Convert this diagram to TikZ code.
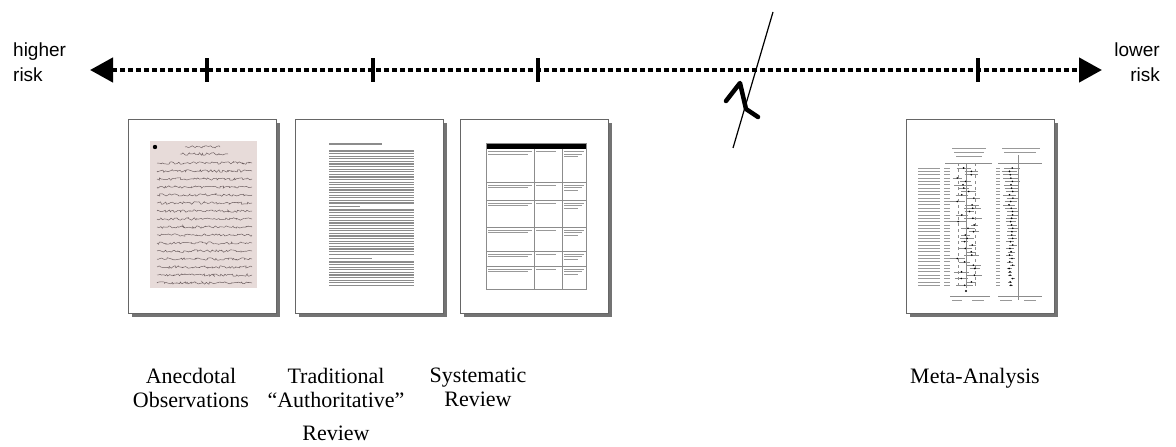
\documentclass[tikz,border=0pt]{standalone}
\usepackage{fontspec}
\setmainfont{Liberation Serif}
\newfontfamily\arialfont{Liberation Sans}
\usetikzlibrary{arrows.meta,shadows,decorations.pathmorphing,positioning}

\definecolor{paper}{RGB}{231,219,217}
\definecolor{ink}{RGB}{105,90,92}

\tikzset{
  docpage/.style={draw=black!60,fill=white,line width=0.8pt,inner sep=0pt,
    minimum width=148pt,minimum height=194pt,
    drop shadow={shadow xshift=4pt,shadow yshift=-4pt,fill=black!55,opacity=1}},
  riskaxis/.style={line width=4.5pt,dash pattern=on 5pt off 3pt,
    {Triangle[length=23pt,width=24pt]}-{Triangle[length=23pt,width=24pt]}},
  tickmark/.style={line width=4pt},
  caption/.style={anchor=north,align=center,inner sep=0pt,font=\fontsize{22}{24}\selectfont},
  risktext/.style={inner sep=0pt,font=\arialfont\fontsize{19}{25}\selectfont},
  scribble/.style={draw=ink,line width=0.45pt,decorate,
    decoration={random steps,segment length=1.6pt,amplitude=1.3pt}},
  textline/.style={draw=black!45,line width=1.1pt},
  cellline/.style={draw=black!40,line width=0.8pt},
  gridline/.style={draw=black!45,line width=0.5pt}
}

\begin{document}
\begin{tikzpicture}[x=1pt,y=-1pt]
\useasboundingbox (0,0) rectangle (1176,447);
\pgfmathsetseed{7}

%% Risk axis
\coordinate (hiEnd) at (90,70);
\coordinate (loEnd) at (1102,70);
\draw[riskaxis] (hiEnd) -- (loEnd);
\foreach \x in {207,373,538,978}
  \draw[tickmark] (\x,58) -- (\x,82);

\node (hiRisk) [risktext,anchor=north west,align=left]  at (13,43)   {higher\\risk};
\node (loRisk) [risktext,anchor=north east,align=right] at (1160,43) {lower\\risk};

%% Axis break
\coordinate (brkTop) at (773,12);
\coordinate (brkBot) at (733,148);
\draw[line width=1.2pt] (brkTop) -- (brkBot);
\draw[line width=4.5pt,line join=round,line cap=round]
  (726,101) -- (740,83) -- (746,109) -- (758,117);

%% Pages
\node (obsPage)  [docpage] at (202,216) {};
\node (revPage)  [docpage] at (369,216) {};
\node (sysPage)  [docpage] at (534,216) {};
\node (metaPage) [docpage] at (980,216) {};

%% Manuscript
\fill[paper] (150,141) rectangle (257,288);
\draw[scribble] (185,147) -- (220,147);
\draw[scribble] (180,154) -- (228,154);
\foreach \y in {163,171,...,283}
  \draw[scribble] (157,\y) -- (252,\y);
\fill[black] (155,147) circle (2.2);

%% Review text
\draw[textline] (329,144) -- (382,144);
\foreach \y in {151,153.6,...,204}
  \draw[textline] (329,\y) -- (414,\y);
\draw[textline] (329,206.6) -- (360,206.6);
\foreach \y in {210,212.6,...,256}
  \draw[textline] (329,\y) -- (414,\y);
\draw[textline] (329,258.2) -- (372,258.2);
\foreach \y in {262,264.6,...,288}
  \draw[textline] (329,\y) -- (414,\y);

%% Systematic review table
\fill[black] (486,143) rectangle (586,148.5);
\draw[gridline] (486,143) rectangle (586,289);
\draw[gridline] (534,148.5) -- (534,289);
\draw[gridline] (562,148.5) -- (562,289);
\foreach \y in {182,200,227,251,266}
  \draw[gridline] (486,\y) -- (586,\y);
\foreach \y in {148.5,182,200,227,251,266} {
  \draw[cellline] (488,{\y+3}) -- (532,{\y+3});
  \draw[cellline] (488,{\y+5.5}) -- (528,{\y+5.5});
  \draw[cellline] (536,{\y+3}) -- (556,{\y+3});
  \draw[cellline] (564,{\y+3}) -- (584,{\y+3});
  \draw[cellline] (564,{\y+5.5}) -- (582,{\y+5.5});
  \draw[cellline] (564,{\y+8}) -- (578,{\y+8});
}

%% Forest plot
\draw[cellline] (952,148) -- (986,148);
\draw[cellline] (954,152) -- (984,152);
\draw[cellline] (956,156) -- (982,156);
\draw[cellline] (1002,148) -- (1040,148);
\draw[cellline] (1004,152) -- (1036,152);
\draw[gridline] (945,163) -- (992,163);
\draw[gridline] (998,163) -- (1042,163);
\draw[gridline,dashed] (958,163) -- (958,288);
\draw[gridline,dashed] (975,163) -- (975,288);
\draw[gridline] (966,163) -- (966,288);
\draw[gridline] (1018,155) -- (1018,300);
\foreach \i in {0,...,35} {
  \pgfmathsetmacro\yy{168+3.35*\i}
  \pgfmathsetmacro\cx{966+9*rand}
  \pgfmathsetmacro\hw{3+6*rnd}
  \pgfmathsetmacro\rx{1011+2*rand}
  \pgfmathsetmacro\rw{max(1.5,8-0.18*\i)}
  \draw[cellline] (918,\yy) -- (940,\yy);
  \draw[cellline] (944,\yy) -- (950,\yy);
  \draw[gridline] ({\cx-\hw},\yy) -- ({\cx+\hw},\yy);
  \fill[black] (\cx,\yy) circle (0.9);
  \draw[cellline] (996,\yy) -- (1000,\yy);
  \draw[gridline] ({\rx-\rw},\yy) -- ({\rx+\rw},\yy);
  \fill[black] (\rx,\yy) circle (0.9);
}
\fill[black] (966,291) circle (1.2);
\draw[gridline] (950,296) -- (990,296);
\draw[gridline] (998,296) -- (1042,296);
\draw[cellline] (952,300) -- (962,300);
\draw[cellline] (972,300) -- (984,300);
\draw[cellline] (1000,300) -- (1012,300);
\draw[cellline] (1024,300) -- (1036,300);

%% Captions
\node (lblAnec) [caption] at (191,368) {Anecdotal\\Observations};
\node (lblTrad) [caption] at (336,368) {Traditional\\“Authoritative”\\[9pt]Review};
\node (lblSys)  [caption] at (478,368) {Systematic\\Review};
\node (lblMeta) [caption] at (975,368) {Meta-Analysis};
\end{tikzpicture}
\end{document}
